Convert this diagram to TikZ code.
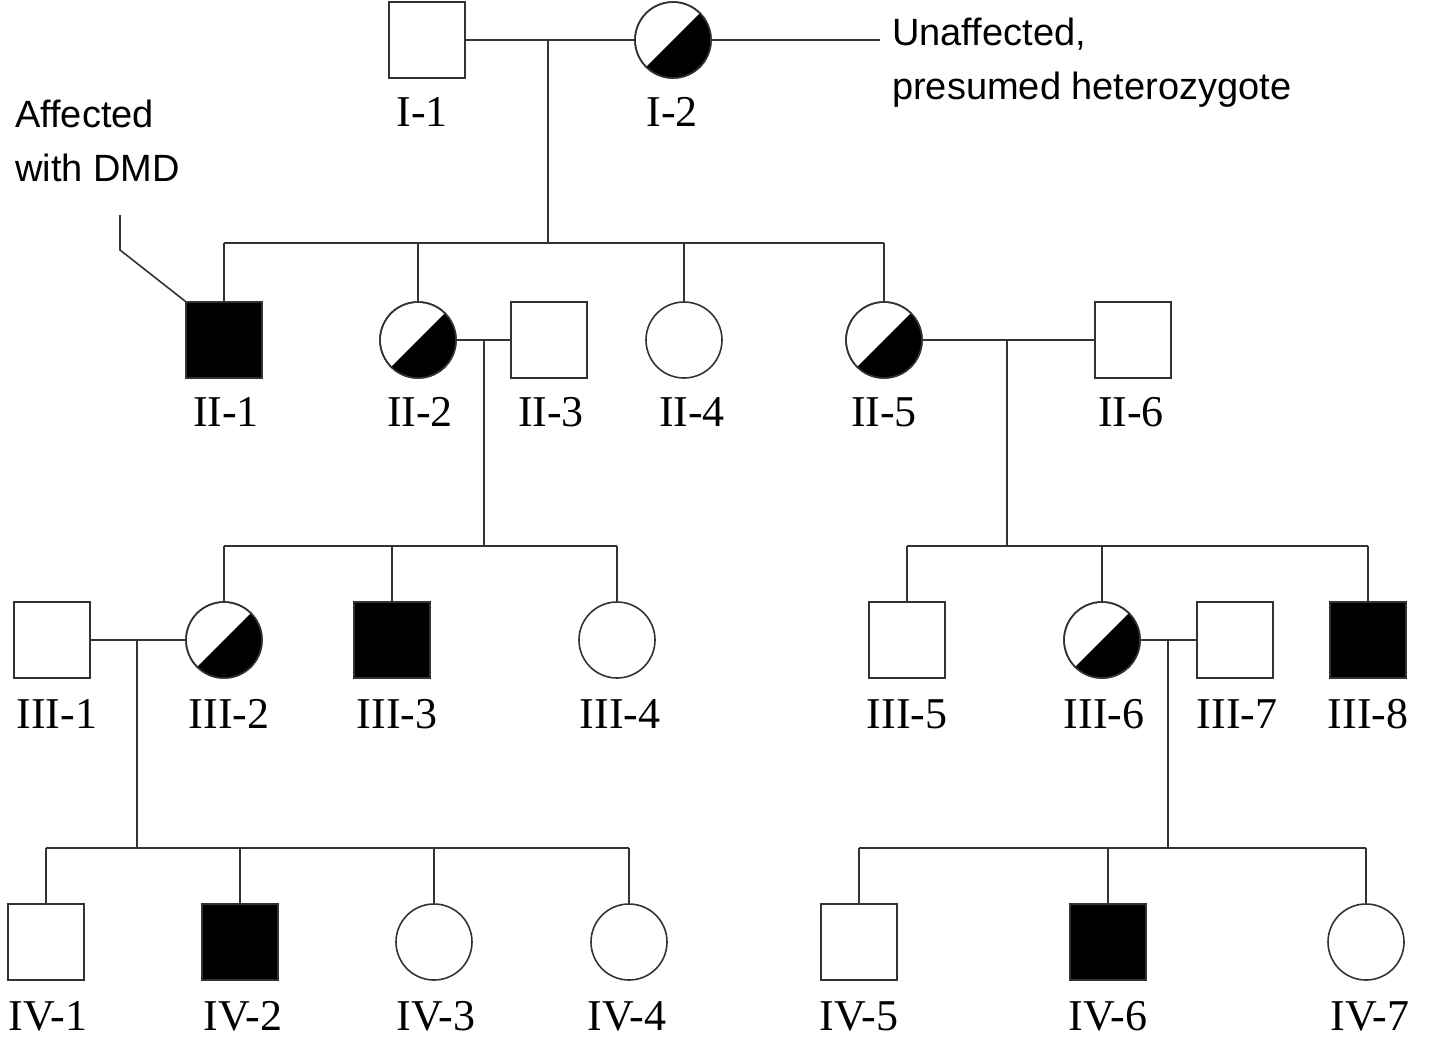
\documentclass[tikz,border=0pt]{standalone}
\usepackage{fontspec}
\usetikzlibrary{calc}
\setmainfont{Liberation Serif}
\newfontfamily\annfont{Liberation Sans}
\begin{document}
\begin{tikzpicture}[x=1pt,y=1pt,
  ln/.style={line width=1.6pt,draw=black!80},
  sq/.style={rectangle,draw=black!80,line width=1.6pt,minimum size=76pt,inner sep=0pt},
  ci/.style={circle,draw=black!80,line width=1.6pt,minimum size=76pt,inner sep=0pt},
  aff/.style={sq,fill=black},
  lab/.style={font=\fontsize{44}{48}\selectfont,inner sep=0pt},
  ann/.style={font=\annfont\fontsize{38}{54}\selectfont,align=left,inner sep=0pt}]
\useasboundingbox (0,0) rectangle (1440,-1055);
\newcommand{\halfshade}[1]{\fill ($(#1.center)+(-135:38)$) arc[start angle=-135,end angle=45,radius=38] -- cycle;
  \draw[line width=1.6pt,draw=black!80] (#1.center) circle[radius=38];}
% Gen I
\node[sq] (i1) at (427,-40) {};
\node[ci] (i2) at (673,-40) {};
\node[lab] at (422,-112) {I-1};
\node[lab] at (672,-112) {I-2};
% Gen II
\node[aff] (ii1) at (224,-340) {};
\node[ci] (ii2) at (418,-340) {};
\node[sq] (ii3) at (549,-340) {};
\node[ci] (ii4) at (684,-340) {};
\node[ci] (ii5) at (884,-340) {};
\node[sq] (ii6) at (1133,-340) {};
\foreach \n/\x in {1/226,2/420,3/551,4/692,5/884,6/1131}{\node[lab] at (\x,-412) {II-\n};}
% Gen III
\node[sq] (iii1) at (52,-640) {};
\node[ci] (iii2) at (224,-640) {};
\node[aff] (iii3) at (392,-640) {};
\node[ci] (iii4) at (617,-640) {};
\node[sq] (iii5) at (907,-640) {};
\node[ci] (iii6) at (1102,-640) {};
\node[sq] (iii7) at (1235,-640) {};
\node[aff] (iii8) at (1368,-640) {};
\foreach \n/\x in {1/57,2/229,3/397,4/620,5/907,6/1104,7/1237,8/1368}{\node[lab] at (\x,-714) {III-\n};}
% Gen IV
\node[sq] (iv1) at (46,-942) {};
\node[aff] (iv2) at (240,-942) {};
\node[ci] (iv3) at (434,-942) {};
\node[ci] (iv4) at (629,-942) {};
\node[sq] (iv5) at (859,-942) {};
\node[aff] (iv6) at (1108,-942) {};
\node[ci] (iv7) at (1366,-942) {};
\foreach \n/\x in {1/48,2/243,3/436,4/627,5/859,6/1108,7/1370}{\node[lab] at (\x,-1016) {IV-\n};}
% shading
\halfshade{i2}\halfshade{ii2}\halfshade{ii5}\halfshade{iii2}\halfshade{iii6}
% coordinates
\coordinate (m1) at (548,-40);   \coordinate (s1) at (548,-243);
\coordinate (m2) at (484,-340);  \coordinate (s2) at (484,-546);
\coordinate (m3) at (1007,-340); \coordinate (s3) at (1007,-546);
\coordinate (m4) at (137,-640);  \coordinate (s4) at (137,-848);
\coordinate (m5) at (1168,-640); \coordinate (s5) at (1168,-848);
% gen I connectors
\draw[ln] (i1.east) -- (i2.west);
\draw[ln] (m1) -- (s1);
\draw[ln] (ii1.north |- s1) -- (ii5.north |- s1);
\foreach \c in {ii1,ii2,ii4,ii5}{\draw[ln] (\c.north) -- (\c.north |- s1);}
% gen II connectors
\draw[ln] (ii2.east) -- (ii3.west);
\draw[ln] (m2) -- (s2);
\draw[ln] (ii5.east) -- (ii6.west);
\draw[ln] (m3) -- (s3);
\draw[ln] (iii2.north |- s2) -- (iii4.north |- s2);
\foreach \c in {iii2,iii3,iii4}{\draw[ln] (\c.north) -- (\c.north |- s2);}
\draw[ln] (iii5.north |- s3) -- (iii8.north |- s3);
\foreach \c in {iii5,iii6,iii8}{\draw[ln] (\c.north) -- (\c.north |- s3);}
% gen III connectors
\draw[ln] (iii1.east) -- (iii2.west);
\draw[ln] (m4) -- (s4);
\draw[ln] (iii6.east) -- (iii7.west);
\draw[ln] (m5) -- (s5);
\draw[ln] (iv1.north |- s4) -- (iv4.north |- s4);
\foreach \c in {iv1,iv2,iv3,iv4}{\draw[ln] (\c.north) -- (\c.north |- s4);}
\draw[ln] (iv5.north |- s5) -- (iv7.north |- s5);
\foreach \c in {iv5,iv6,iv7}{\draw[ln] (\c.north) -- (\c.north |- s5);}
% annotations
\node[ann,anchor=north west] (a1) at (15,-100) {Affected\\with DMD};
\coordinate (a1b) at (120,-250);
\draw[ln] (120,-215) -- (a1b) -- (ii1.north west);
\node[ann,anchor=north west] (a2) at (892,-18) {Unaffected,\\presumed heterozygote};
\draw[ln] (i2.east) -- (880,-40);
\end{tikzpicture}
\end{document}
